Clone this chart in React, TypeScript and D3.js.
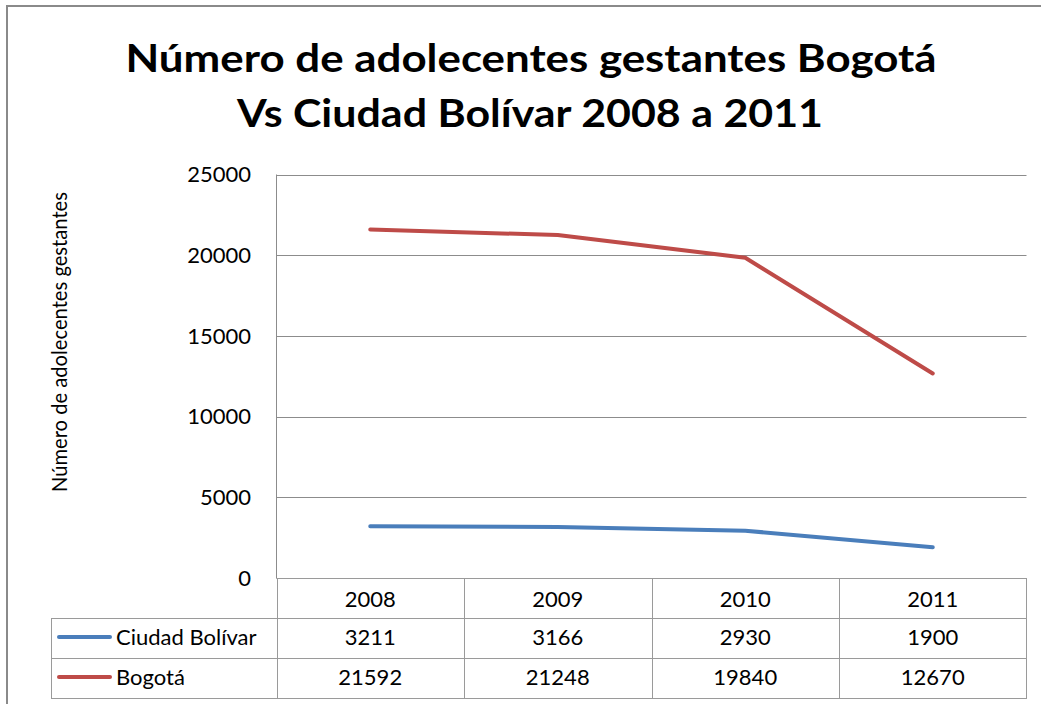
import React from "react";
import * as d3 from "d3";

const categories = ["2008", "2009", "2010", "2011"];
const ciudadBolivar = [3211, 3166, 2930, 1900];
const bogota = [21592, 21248, 19840, 12670];
const yTicks = [0, 5000, 10000, 15000, 20000, 25000];
const seriesNames = ["Ciudad Bolívar", "Bogotá"];
const seriesColors = ["#4A7EBB", "#BE4B48"];
const titleLines = ["Número de adolecentes gestantes Bogotá", "Vs Ciudad Bolívar 2008 a 2011"];
const yAxisTitle = "Número de adolecentes gestantes";

const W = 1041;
const H = 704;
const FONT = "Lato, 'Open Sans', sans-serif";

export default function App() {
  const plotLeft = 276.5;
  const plotRight = 1026.5;
  const plotTop = 174.5;
  const plotBottom = 578;
  const tableLeft = 51.5;
  const rowLines = [578, 618, 658, 698];

  const x = d3.scaleBand<string>().domain(categories).range([plotLeft, plotRight]).padding(0);
  const y = d3.scaleLinear().domain([0, 25000]).range([plotBottom, plotTop]);
  const line = d3
    .line<number>()
    .x((_, i) => (x(categories[i]) as number) + x.bandwidth() / 2)
    .y((d) => y(d));

  const series = [ciudadBolivar, bogota];
  const gridColor = "#8c8c8c";
  const tableColor = "#9a9a9a";

  return (
    <div style={{ position: "fixed", left: 0, top: 0 }}>
      <svg width={W} height={H} style={{ display: "block", background: "#fff" }}>
        {/* outer border */}
        <rect x={7} y={6} width={W + 20} height={H + 20} fill="#fff" stroke="#8a8a8a" strokeWidth={2} />

        {/* title */}
        <text x={531} y={72} textAnchor="middle" fontFamily={FONT} fontWeight={700} fontSize={39}
          textLength={811} lengthAdjust="spacingAndGlyphs" fill="#000">{titleLines[0]}</text>
        <text x={530} y={127} textAnchor="middle" fontFamily={FONT} fontWeight={700} fontSize={39}
          textLength={586} lengthAdjust="spacingAndGlyphs" fill="#000">{titleLines[1]}</text>

        {/* gridlines */}
        {yTicks.map((t) => (
          <line key={t} x1={plotLeft} x2={plotRight} y1={Math.round(y(t)) + 0.5} y2={Math.round(y(t)) + 0.5}
            stroke={gridColor} strokeWidth={1} />
        ))}
        <line x1={plotLeft} x2={plotLeft} y1={plotTop} y2={plotBottom} stroke={gridColor} strokeWidth={1} />

        {/* y tick labels */}
        {yTicks.map((t) => (
          <text key={"l" + t} x={251} y={y(t)} dy="0.35em" textAnchor="end" fontFamily={FONT}
            fontSize={22} fill="#000">{t}</text>
        ))}

        {/* y axis title */}
        <text transform={`translate(67,342) rotate(-90)`} textAnchor="middle" fontFamily={FONT}
          fontSize={21} fill="#000" textLength={300} lengthAdjust="spacingAndGlyphs">{yAxisTitle}</text>

        {/* lines */}
        {series.map((s, i) => (
          <path key={i} d={line(s) || ""} fill="none" stroke={seriesColors[i]} strokeWidth={4}
            strokeLinejoin="round" strokeLinecap="round" />
        ))}

        {/* data table */}
        <g stroke={tableColor} strokeWidth={1} fill="none">
          <line x1={plotLeft} x2={plotRight} y1={rowLines[0] + 0.5} y2={rowLines[0] + 0.5} />
          <line x1={tableLeft} x2={plotRight} y1={rowLines[1] + 0.5} y2={rowLines[1] + 0.5} />
          <line x1={tableLeft} x2={plotRight} y1={rowLines[2] + 0.5} y2={rowLines[2] + 0.5} />
          <line x1={tableLeft} x2={plotRight} y1={rowLines[3] + 0.5} y2={rowLines[3] + 0.5} />
          <line x1={tableLeft} x2={tableLeft} y1={rowLines[1]} y2={rowLines[3] + 1} />
          {categories.map((c) => (
            <line key={c} x1={Math.round(x(c) as number) + 0.5} x2={Math.round(x(c) as number) + 0.5}
              y1={rowLines[0]} y2={rowLines[3] + 1} />
          ))}
          <line x1={plotRight} x2={plotRight} y1={rowLines[0]} y2={rowLines[3] + 1} />
        </g>

        {categories.map((c, i) => (
          <g key={"t" + c} fontFamily={FONT} fontSize={22} fill="#000" textAnchor="middle">
            <text x={(x(c) as number) + x.bandwidth() / 2} y={607}>{c}</text>
            <text x={(x(c) as number) + x.bandwidth() / 2} y={645}>{ciudadBolivar[i]}</text>
            <text x={(x(c) as number) + x.bandwidth() / 2} y={685}>{bogota[i]}</text>
          </g>
        ))}

        {seriesNames.map((n, i) => (
          <g key={n}>
            <line x1={59} x2={110} y1={637 + i * 40} y2={637 + i * 40} stroke={seriesColors[i]}
              strokeWidth={4} strokeLinecap="round" />
            <text x={116} y={645 + i * 40} fontFamily={FONT} fontSize={22} fill="#000">{n}</text>
          </g>
        ))}
      </svg>
    </div>
  );
}
